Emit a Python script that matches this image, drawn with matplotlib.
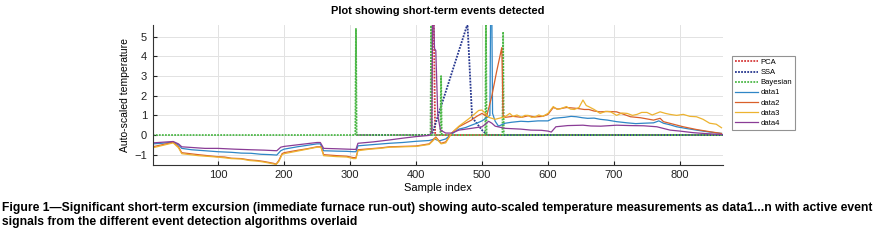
import matplotlib
matplotlib.use("Agg")
import matplotlib.pyplot as plt

plt.rcParams['font.family'] = ['Liberation Sans', 'DejaVu Sans']

# ---- data ----
pca_x = [310, 423, 425, 427, 429, 865]
pca_y = [0, 0, 5.8, 5.8, 0, 0]

ssa_x = [310, 424, 478, 485, 500, 508, 865]
ssa_y = [0, 0, 5.65, 0.9, 0.25, 0, 0]

bay_x = [1, 308, 309, 310, 422, 423, 424, 437, 438, 439,
         505, 506, 507, 531, 532, 533, 865]
bay_y = [0, 0, 5.4, 0, 0, 5.8, 0, 0, 3.0, 0,
         0, 5.8, 0, 0, 5.25, 0, 0]

data1_x = [1, 15, 32, 40, 45, 60, 80, 100, 120, 135, 150, 165, 180, 189, 195,
           200, 220, 240, 250, 255, 260, 280, 295, 305, 309, 312, 330, 345, 360,
           380, 400, 420, 428, 435, 445, 454, 465, 475, 484, 492, 500, 508, 512,
           513, 515, 516, 520, 525, 535, 545, 559, 570, 585, 600, 608, 618, 625,
           635, 643, 652, 660, 670, 679, 690, 704, 720, 733, 745, 760, 768, 775,
           785, 795, 810, 825, 845, 863]
data1_y = [-0.45, -0.42, -0.36, -0.5, -0.68, -0.75, -0.8, -0.85, -0.88, -0.92,
           -0.93, -0.98, -1.0, -1.02, -0.8, -0.72, -0.6, -0.5, -0.45, -0.45,
           -0.8, -0.82, -0.83, -0.85, -0.85, -0.55, -0.5, -0.46, -0.42, -0.38,
           -0.32, -0.28, -0.2, -0.3, -0.2, 0.05, 0.3, 0.38, 0.5, 0.6, 0.72, 0.9,
           1.0, 5.8, 5.8, 1.1, 0.7, 0.45, 0.6, 0.65, 0.7, 0.68, 0.72, 0.72, 0.85,
           0.88, 0.9, 0.95, 0.93, 0.88, 0.85, 0.86, 0.8, 0.76, 0.68, 0.62, 0.58,
           0.6, 0.62, 0.72, 0.6, 0.52, 0.42, 0.33, 0.25, 0.15, 0.08]

data2_x = [1, 32, 40, 45, 70, 98, 110, 120, 135, 148, 160, 170, 184, 188, 192,
           197, 200, 220, 235, 250, 256, 260, 280, 295, 305, 309, 312, 330, 345,
           360, 380, 400, 420, 430, 438, 445, 454, 465, 475, 484, 492, 500, 507,
           515, 522, 530, 532, 535, 547, 555, 560, 570, 580, 592, 600, 608, 615,
           620, 628, 636, 645, 655, 662, 670, 679, 690, 704, 715, 725, 740, 750,
           760, 770, 775, 790, 805, 825, 845, 863]
data2_y = [-0.6, -0.37, -0.6, -0.9, -1.0, -1.1, -1.12, -1.18, -1.2, -1.27,
           -1.3, -1.35, -1.44, -1.48, -1.3, -0.95, -0.9, -0.78, -0.7, -0.6,
           -0.6, -1.0, -1.05, -1.08, -1.15, -1.15, -0.75, -0.7, -0.66, -0.6,
           -0.58, -0.56, -0.45, -0.1, -0.42, -0.35, 0.1, 0.42, 0.6, 0.76, 0.95,
           1.1, 0.95, 2.0, 3.2, 4.45, 1.0, 0.9, 0.95, 0.92, 0.9, 0.98, 0.92,
           0.95, 1.05, 1.4, 1.32, 1.35, 1.4, 1.38, 1.35, 1.3, 1.3, 1.22, 1.18,
           1.2, 1.18, 1.05, 0.93, 0.88, 0.82, 0.76, 0.85, 0.68, 0.55, 0.42, 0.28,
           0.17, 0.08]

data3_x = [1, 32, 40, 45, 70, 98, 110, 120, 135, 148, 160, 170, 184, 188, 192,
           197, 200, 220, 235, 250, 256, 260, 280, 295, 305, 309, 312, 330, 345,
           360, 380, 400, 420, 430, 438, 445, 454, 465, 475, 484, 495, 500, 505,
           510, 520, 535, 542, 547, 553, 560, 565, 570, 575, 580, 586, 592, 600,
           608, 614, 620, 628, 634, 640, 647, 653, 658, 662, 670, 679, 687, 695,
           704, 712, 720, 728, 735, 742, 750, 758, 770, 778, 785, 795, 805, 815,
           825, 835, 845, 855, 863]
data3_y = [-0.65, -0.4, -0.65, -0.95, -1.05, -1.12, -1.16, -1.2, -1.22, -1.3,
           -1.33, -1.38, -1.47, -1.5, -1.35, -1.0, -0.95, -0.82, -0.72, -0.62,
           -0.62, -1.05, -1.1, -1.12, -1.2, -1.2, -0.8, -0.72, -0.68, -0.62,
           -0.6, -0.58, -0.48, -0.15, -0.45, -0.4, 0.1, 0.45, 0.7, 0.93, 1.25,
           1.27, 1.1, 0.9, 0.8, 0.93, 1.1, 0.95, 1.02, 0.9, 1.0, 1.0, 0.9, 0.92,
           1.02, 0.95, 1.1, 1.45, 1.3, 1.35, 1.45, 1.32, 1.3, 1.4, 1.78, 1.5,
           1.44, 1.3, 1.1, 1.2, 1.18, 1.0, 1.12, 1.1, 1.0, 1.05, 1.15, 1.15, 1.02,
           1.18, 1.1, 1.05, 1.0, 1.05, 0.95, 0.93, 0.8, 0.6, 0.55, 0.37]

data4_x = [1, 32, 40, 45, 80, 100, 125, 150, 170, 189, 195, 200, 225, 250, 255,
           260, 280, 305, 309, 312, 335, 360, 380, 400, 420, 424, 425, 427, 428,
           430, 433, 437, 445, 454, 465, 484, 500, 505, 510, 515, 520, 535, 559,
           574, 590, 600, 605, 612, 630, 653, 665, 680, 704, 725, 745, 765, 785,
           800, 820, 840, 863]
data4_y = [-0.4, -0.33, -0.45, -0.6, -0.68, -0.68, -0.72, -0.75, -0.77, -0.8,
           -0.62, -0.58, -0.48, -0.38, -0.38, -0.68, -0.7, -0.73, -0.73, -0.42,
           -0.35, -0.25, -0.16, -0.08, -0.02, 0.15, 5.8, 5.8, 4.4, 4.3, 1.0,
           0.25, 0.1, 0.1, 0.25, 0.34, 0.42, 0.55, 0.7, 0.6, 0.45, 0.34, 0.3,
           0.25, 0.24, 0.2, 0.15, 0.42, 0.48, 0.5, 0.46, 0.45, 0.5, 0.48, 0.47,
           0.42, 0.25, 0.2, 0.12, 0.07, 0.03]

series_labels = ['PCA', 'SSA', 'Bayesian', 'data1', 'data2', 'data3', 'data4']
x_ticks = [100, 200, 300, 400, 500, 600, 700, 800]
y_ticks = [-1, 0, 1, 2, 3, 4, 5]

# ---- figure ----
fig = plt.figure(figsize=(8.88, 2.45), dpi=100)
ax = fig.add_axes([0.172, 0.327, 0.642, 0.571])

dot = (0, (1, 0.7))
ax.plot(pca_x, pca_y, linestyle=dot, color='#D63A3A', lw=1.3, label=series_labels[0])
ax.plot(ssa_x, ssa_y, linestyle=dot, color='#27378F', lw=1.3, label=series_labels[1])
ax.plot(bay_x, bay_y, linestyle=dot, color='#4DB848', lw=1.3, label=series_labels[2])
ax.plot(data1_x, data1_y, '-', color='#2F86C6', lw=0.9, label=series_labels[3])
ax.plot(data2_x, data2_y, '-', color='#D9602A', lw=0.9, label=series_labels[4])
ax.plot(data3_x, data3_y, '-', color='#EDB330', lw=0.9, label=series_labels[5])
ax.plot(data4_x, data4_y, '-', color='#8A3C96', lw=0.9, label=series_labels[6])

ax.set_xlim(1, 865)
ax.set_ylim(-1.52, 5.6)
ax.set_xticks(x_ticks)
ax.set_yticks(y_ticks)
ax.grid(True, color='#E2E2E2', lw=0.7)
ax.set_axisbelow(True)
for s in ['top', 'right']:
    ax.spines[s].set_visible(False)
for s in ['left', 'bottom']:
    ax.spines[s].set_color('#333333')
    ax.spines[s].set_linewidth(0.8)
ax.tick_params(direction='in', length=3, labelsize=8, colors='#222222', pad=4)

ax.set_title('Plot showing short-term events detected', fontsize=7.9,
             fontweight='bold', pad=8)
ax.set_xlabel('Sample index', fontsize=8, labelpad=2)
ax.set_ylabel('Auto-scaled temperature', fontsize=7.5, labelpad=3)

leg = ax.legend(loc='upper left', bbox_to_anchor=(1.016, 0.78), fontsize=5.5,
                frameon=True, fancybox=False, edgecolor='#777777',
                handlelength=3.0, handletextpad=0.3, borderpad=0.4,
                labelspacing=0.36, borderaxespad=0)
leg.get_frame().set_linewidth(0.8)

cap_font = ['Liberation Sans Narrow', 'Liberation Sans', 'DejaVu Sans']
fig.text(0.002, 1 - 208 / 245,
         'Figure 1\u2014Significant short-term excursion (immediate furnace run-out) '
         'showing auto-scaled temperature measurements as data1...n with active event',
         fontsize=8.7, fontweight='bold', va='center', ha='left', family=cap_font)
fig.text(0.002, 1 - 222 / 245,
         'signals from the different event detection algorithms overlaid',
         fontsize=8.7, fontweight='bold', va='center', ha='left', family=cap_font)

fig.savefig('out.png', dpi=100)
